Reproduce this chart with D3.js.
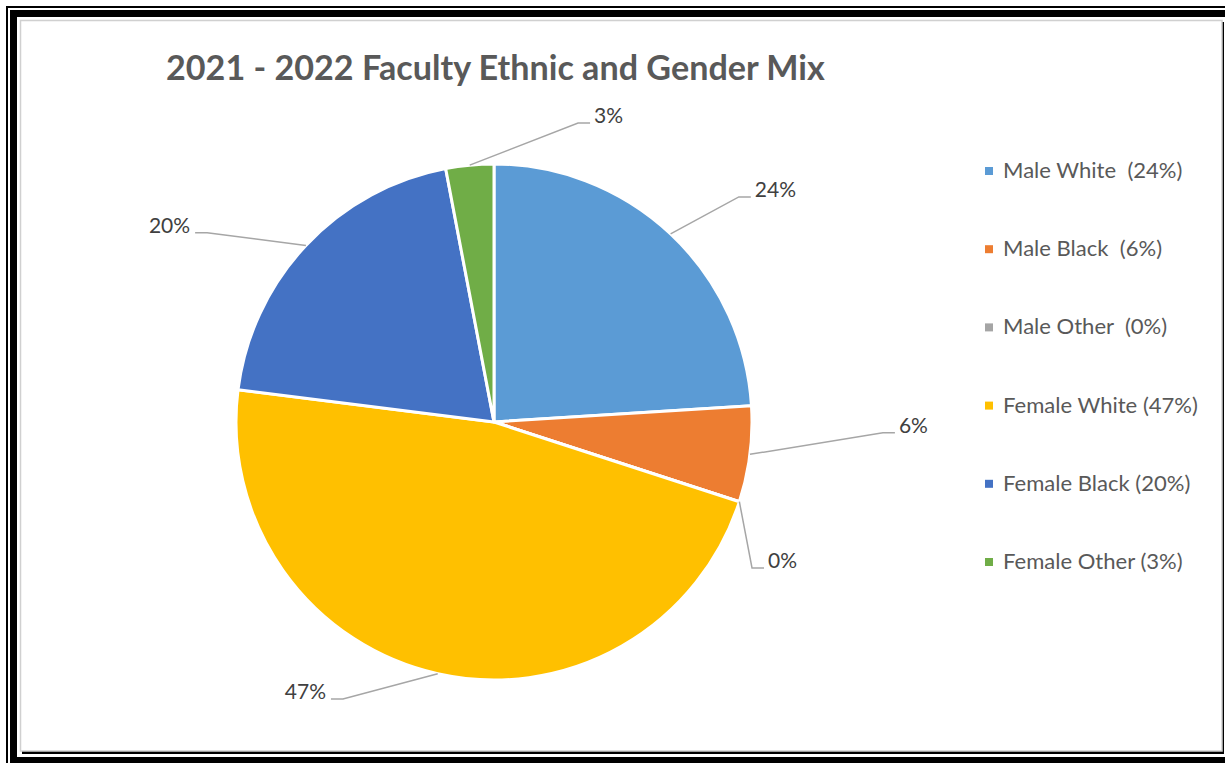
<!DOCTYPE html>
<html>
<head>
<meta charset="utf-8">
<script src="https://cdn.jsdelivr.net/npm/d3@7"></script>
<style>
  html, body { margin: 0; padding: 0; background: #fff; }
  svg { display: block; }
</style>
</head>
<body>
<svg id="chart" width="1225" height="763"></svg>
<script>
// ---- data ----
const categories = ["Male White", "Male Black", "Male Other", "Female White", "Female Black", "Female Other"];
const values = [24, 6, 0, 47, 20, 3];
const legendLabels = ["Male White  (24%)", "Male Black  (6%)", "Male Other  (0%)", "Female White (47%)", "Female Black (20%)", "Female Other (3%)"];
const dataLabels = ["24%", "6%", "0%", "47%", "20%", "3%"];
const colors = ["#5B9BD5", "#ED7D31", "#A5A5A5", "#FFC000", "#4472C4", "#70AD47"];
const titleText = "2021 - 2022 Faculty Ethnic and Gender Mix";

// ---- layout (label elbow placement: radius factor, angle in degrees) ----
const labelPlacement = [
  { rf: 1.289, deg: 47.4 },
  { rf: 1.508, deg: 91.6 },
  { rf: 1.149, deg: 119.5 },
  { rf: 1.223, deg: 208.6 },
  { rf: 1.332, deg: 303.4 },
  { rf: 1.204, deg: 15.7 }
];

const svg = d3.select("#chart");
const FONT = "Lato, 'Open Sans', sans-serif";

// page border
svg.append("rect").attr("x", 7).attr("y", 7).attr("width", 1240).attr("height", 800)
  .attr("fill", "none").attr("stroke", "#000").attr("stroke-width", 2);
svg.append("rect").attr("x", 13.5).attr("y", 13.5).attr("width", 1240).attr("height", 800)
  .attr("fill", "none").attr("stroke", "#000").attr("stroke-width", 7);
svg.append("rect").attr("x", 10).attr("y", 757).attr("width", 1215).attr("height", 6).attr("fill", "#000");

// chart box with shadow
svg.append("rect").attr("x", 22).attr("y", 22).attr("width", 1202).attr("height", 732).attr("fill", "#000");
svg.append("rect").attr("x", 20.5).attr("y", 20.5).attr("width", 1201.5).attr("height", 730.5)
  .attr("fill", "#fff").attr("stroke", "#d0d0d0").attr("stroke-width", 1.5);

// title
const title = svg.append("text")
  .attr("x", 166).attr("y", 80)
  .attr("fill", "#595959")
  .style("font-family", FONT).style("font-weight", 700).style("font-size", "32px")
  .text(titleText);
{
  const w = title.node().getComputedTextLength();
  title.style("font-size", (32 * 659 / w) + "px");
}

// pie
const cx = 494, cy = 422, r = 258;
const g = svg.append("g").attr("transform", `translate(${cx},${cy})`);
const pie = d3.pie().sort(null).value(d => d)(values);
const arc = d3.arc().innerRadius(0).outerRadius(r);
g.selectAll("path.slice").data(pie).enter().append("path")
  .attr("class", "slice")
  .attr("d", arc)
  .attr("fill", (d, i) => colors[i])
  .attr("stroke", "#fff").attr("stroke-width", 3).attr("stroke-linejoin", "round");

// leader lines and labels
const pt = (rad, ang) => [rad * Math.sin(ang), -rad * Math.cos(ang)];
pie.forEach((d, i) => {
  const mid = (d.startAngle + d.endAngle) / 2;
  const p0 = pt(r, mid);
  const lp = labelPlacement[i];
  const p1 = pt(r * lp.rf, lp.deg * Math.PI / 180);
  const right = p1[0] > 0;
  const p2 = [p1[0] + (right ? 12 : -12), p1[1]];
  g.append("polyline")
    .attr("points", [p0, p1, p2].map(p => p.join(",")).join(" "))
    .attr("fill", "none").attr("stroke", "#a6a6a6").attr("stroke-width", 1.5);
  g.append("text")
    .attr("x", p2[0] + (right ? 4 : -5)).attr("y", p2[1])
    .attr("text-anchor", right ? "start" : "end")
    .attr("fill", "#404040")
    .style("font-family", FONT).style("font-size", "21px")
    .text(dataLabels[i]);
});

// legend
const legendY = d3.scalePoint().domain(categories).range([171, 562]);
const lg = svg.append("g");
const items = lg.selectAll("g").data(categories).enter().append("g")
  .attr("transform", d => `translate(985,${legendY(d)})`);
items.append("rect").attr("x", 0).attr("y", -4).attr("width", 8).attr("height", 8)
  .attr("fill", (d, i) => colors[i]);
const ltexts = items.append("text").attr("x", 18).attr("y", 7)
  .attr("fill", "#595959")
  .style("font-family", FONT).style("font-size", "20px").style("white-space", "pre")
  .text((d, i) => legendLabels[i]);
{
  const w = ltexts.nodes()[3].getComputedTextLength();
  ltexts.style("font-size", (20 * 195 / w) + "px");
}
</script>
</body>
</html>
